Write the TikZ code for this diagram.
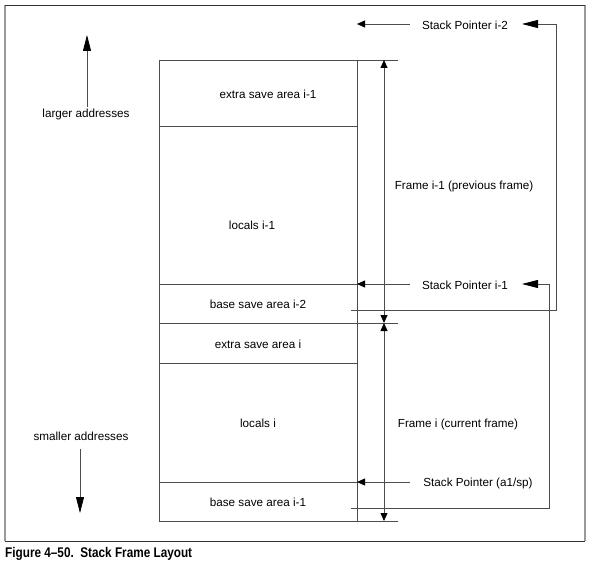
\documentclass[tikz,border=0pt]{standalone}
\usepackage{fontspec}
\setmainfont{Liberation Sans}
\usetikzlibrary{arrows.meta}
\begin{document}
\begin{tikzpicture}[x=1pt,y=-1pt,
  lbl/.style={font=\fontsize{11.7}{14}\selectfont, inner sep=0pt},
  cell/.style={draw=black!70, line width=0.8pt, minimum width=198pt, inner sep=0pt, outer sep=0pt, anchor=north west},
  ln/.style={draw=black!70, line width=0.8pt},
  tip/.style={ln, -{Triangle[length=8pt,width=7pt,color=black]}},
  bigtip/.style={ln, -{Triangle[length=16pt,width=8pt,color=black]}},
  dbl/.style={ln, {Triangle[length=8pt,width=7pt,color=black]}-{Triangle[length=8pt,width=7pt,color=black]}}
]
\useasboundingbox (0,0) rectangle (593,567);
% outer frame
\draw[black!40, line width=1.6pt] (5,5) -- (5,541) (585,5) -- (585,541);
\draw[black!80, line width=0.9pt] (5,5) -- (585,5) (5,541) -- (585,541);

% stack cells
\node[cell, minimum height=66pt]  (c1) at (159,60) {};
\node[cell, minimum height=158pt] (c2) at (159,126) {};
\node[cell, minimum height=39pt]  (c3) at (159,284) {};
\node[cell, minimum height=40pt]  (c4) at (159,323) {};
\node[cell, minimum height=119pt] (c5) at (159,363) {};
\node[cell, minimum height=39pt]  (c6) at (159,482) {};

\node[lbl] (t1) at (268,94)  {extra save area i-1};
\node[lbl] (t2) at (252,225) {locals i-1};
\node[lbl] (t3) at (258,304) {base save area i-2};
\node[lbl] (t4) at (258,344) {extra save area i};
\node[lbl] (t5) at (258,423) {locals i};
\node[lbl] (t6) at (258,502) {base save area i-1};

% extended frame boundary lines
\coordinate (e1) at (398,60);
\coordinate (e2) at (398,323);
\coordinate (e3) at (398,521);
\draw[ln] (c1.north east) -- (e1);
\draw[ln] (c4.north east) -- (e2);
\draw[ln] (c6.south east) -- (e3);

% frame arrows
\coordinate (f1) at (384,60);
\coordinate (f2) at (384,323);
\coordinate (f3) at (384,521);
\draw[dbl] (f2) -- (f1);
\draw[dbl] (f2) -- (f3);
\node[lbl] (fr1) at (464,186) {Frame i-1 (previous frame)};
\node[lbl] (fr2) at (458,424) {Frame i (current frame)};

% stack pointers
\node[lbl] (sp2) at (465,25)  {Stack Pointer i-2};
\node[lbl] (sp1) at (465,285) {Stack Pointer i-1};
\node[lbl] (sp0) at (478,483) {Stack Pointer (a1/sp)};
\draw[tip] ([xshift=-12pt]sp2.west |- 0,24) -- (357,24);
\draw[tip] ([xshift=-12pt]sp1.west |- 0,284) -- (c2.south east);
\draw[tip] ([xshift=-13pt]sp0.west |- 0,482) -- (c5.south east);

% return links
\coordinate (r2a) at (351,310);
\coordinate (r2b) at (556,310);
\coordinate (r1a) at (351,508);
\coordinate (r1b) at (549,508);
\draw[bigtip] (r2a) -- (r2b) |- (522,24);
\draw[bigtip] (r1a) -- (r1b) |- (522,284);

% address direction
\coordinate (ua) at (87,107);
\coordinate (ub) at (87,35);
\draw[bigtip] (ua) -- (ub);
\node[lbl] (la) at (86,114) {larger addresses};
\node[lbl] (sa) at (81,436) {smaller addresses};
\coordinate (da) at (80,449);
\coordinate (db) at (80,513);
\draw[bigtip] (da) -- (db);

% caption
\node[anchor=west, inner sep=0pt] (cap) at (5,554) {\scalebox{0.84}[1]{\fontsize{14}{16}\selectfont\bfseries Figure 4--50.\ \ Stack Frame Layout}};
\end{tikzpicture}
\end{document}
